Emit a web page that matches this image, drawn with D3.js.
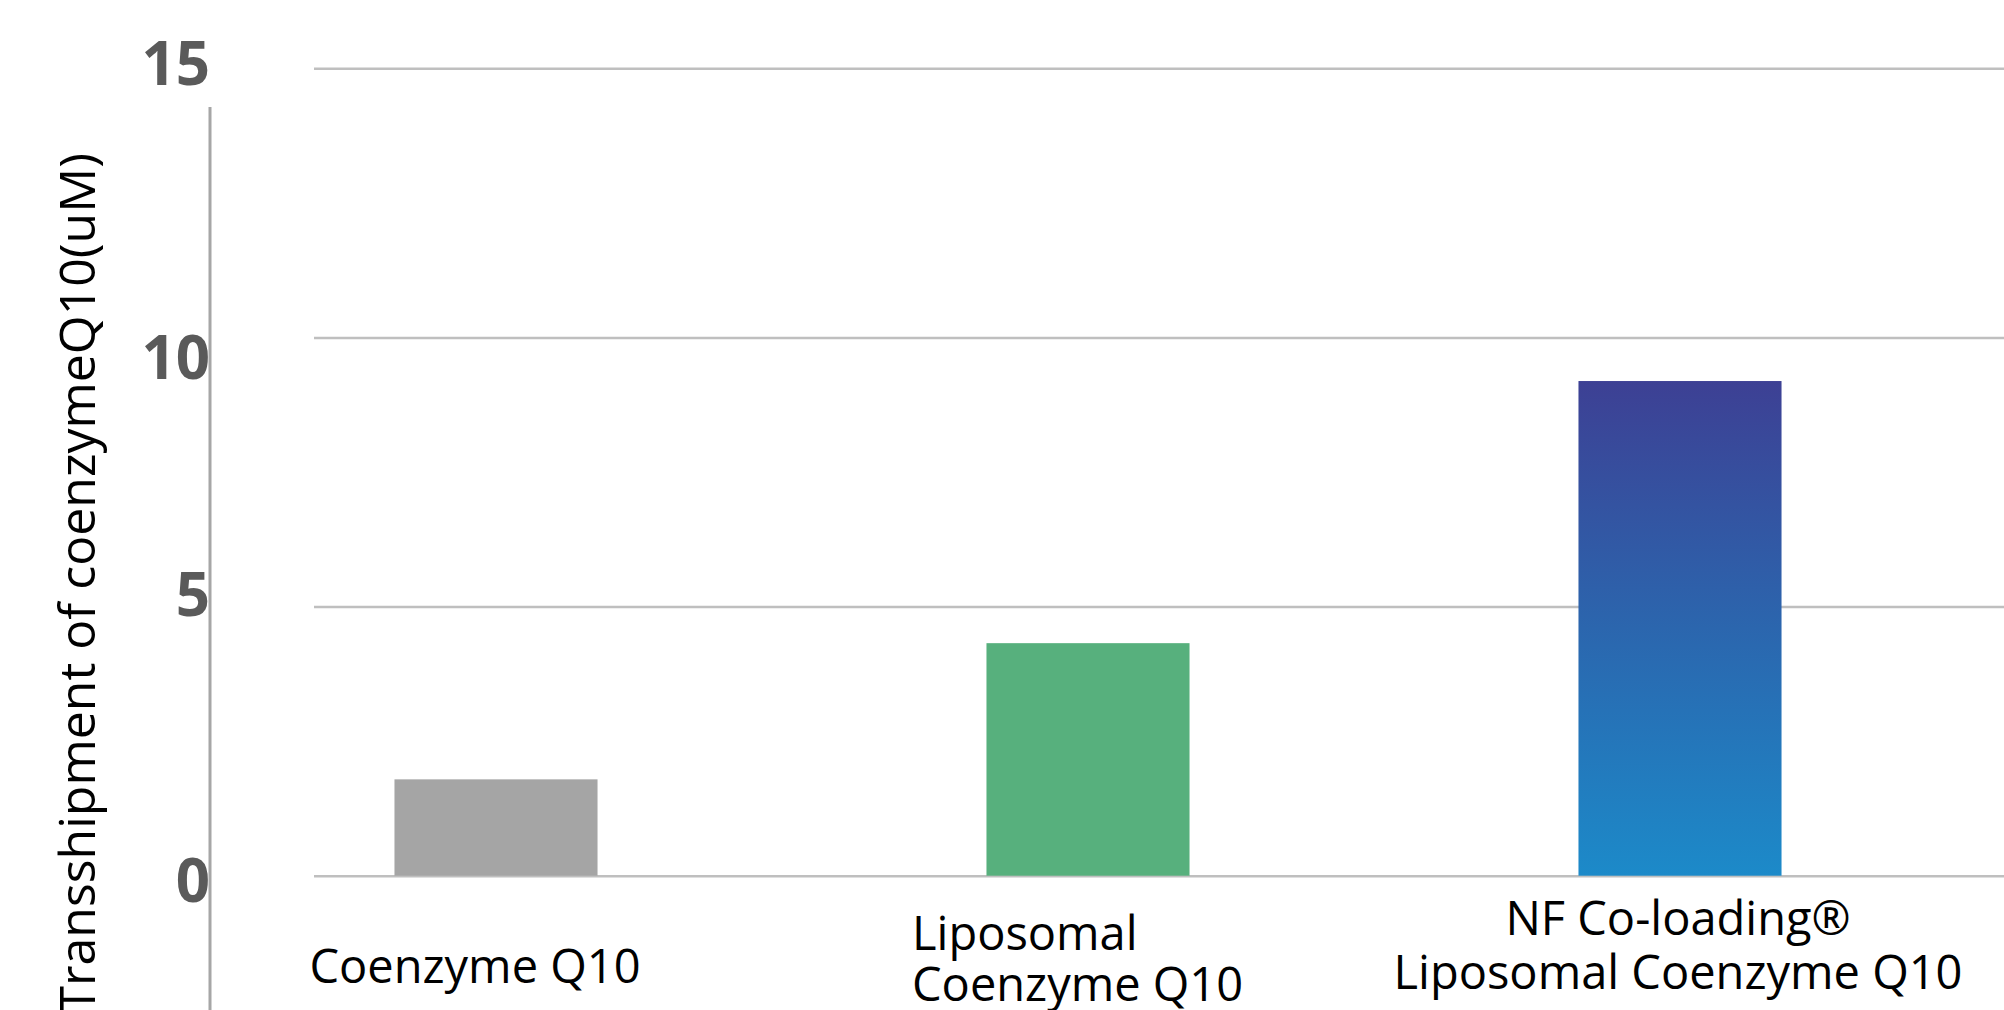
<!DOCTYPE html>
<html>
<head>
<meta charset="utf-8">
<script src="https://d3js.org/d3.v7.min.js"></script>
<style>
  body { margin: 0; background: #fff; }
  text { font-family: "Open Sans", "Noto Sans", sans-serif; }
</style>
</head>
<body>
<script type="text/javascript">

  // data
  var categories = ["Coenzyme Q10", "Liposomal Coenzyme Q10", "NF Co-loading® Liposomal Coenzyme Q10"];
  var labelLines = [["Coenzyme Q10"], ["Liposomal", "Coenzyme Q10"], ["NF Co-loading®", "Liposomal Coenzyme Q10"]];
  var values = [1.79, 4.32, 9.19];
  var yTicks = [0, 5, 10, 15];
  var yTitle = "Transshipment of coenzymeQ10(uM)";

  var w = 2004;
  var h = 1010;

  var svg = d3.select("body")
              .append("svg")
              .attr("width", w)
              .attr("height", h);

  var x = d3.scaleBand().domain(categories).range([200, 1976])
            .paddingInner(0.657).paddingOuter(0.3285);
  var y = d3.scaleLinear().domain([0, 15]).range([875.7, 68.3]);

  // gradient for the third bar
  var grad = svg.append("defs").append("linearGradient")
      .attr("id", "blueGrad")
      .attr("x1", 0).attr("y1", 0).attr("x2", 0).attr("y2", 1);
  grad.append("stop").attr("offset", "0%").attr("stop-color", "#3d4094");
  grad.append("stop").attr("offset", "50%").attr("stop-color", "#2b66ae");
  grad.append("stop").attr("offset", "100%").attr("stop-color", "#1c8ac9");

  var fills = ["#a5a5a5", "#57b07d", "url(#blueGrad)"];

  // gridlines
  var grid = svg.append("g")
      .attr("transform", "translate(314,0)")
      .call(d3.axisLeft(y).tickValues(yTicks).tickSize(-(w - 314)).tickFormat(""));
  grid.select(".domain").remove();
  grid.selectAll("line")
      .attr("stroke", "#bfbfbf")
      .attr("stroke-width", 2.5);

  // y axis line
  svg.append("line")
      .attr("x1", 210).attr("x2", 210)
      .attr("y1", 107).attr("y2", h)
      .attr("stroke", "#a6a6a6")
      .attr("stroke-width", 3);

  // tick labels (sit a bit off their gridlines in the original)
  var tickNudge = {0: 5, 5: -12, 10: 20, 15: -5};
  svg.append("g").selectAll("text")
      .data(yTicks)
      .enter().append("text")
      .attr("x", 210)
      .attr("y", function(d) { return y(d) + tickNudge[d]; })
      .attr("dy", "0.36em")
      .attr("text-anchor", "end")
      .attr("font-size", 60)
      .attr("font-weight", 700)
      .attr("fill", "#5a5a5a")
      .text(function(d) { return d; });

  // bars
  svg.append("g").selectAll("rect")
      .data(values)
      .enter().append("rect")
      .attr("x", function(d, i) { return x(categories[i]); })
      .attr("y", function(d) { return y(d); })
      .attr("width", x.bandwidth())
      .attr("height", function(d) { return y(0) - y(d); })
      .attr("fill", function(d, i) { return fills[i]; });

  // category labels
  var labelShift = [-21, -176, -2];
  var labelAnchor = ["middle", "start", "middle"];
  var labelBase = [[983], [950, 1001], [935, 989]];
  labelLines.forEach(function(lines, i) {
    var cx = x(categories[i]) + x.bandwidth() / 2 + labelShift[i];
    svg.append("g").selectAll("text")
        .data(lines)
        .enter().append("text")
        .attr("text-anchor", labelAnchor[i])
        .attr("font-size", 47)
        .attr("fill", "#000")
        .attr("x", cx)
        .attr("y", function(d, j) { return labelBase[i][j]; })
        .text(function(d) { return d; });
  });

  // y title
  svg.append("text")
      .attr("transform", "translate(95,153) rotate(-90)")
      .attr("text-anchor", "end")
      .attr("font-size", 50)
      .attr("fill", "#000")
      .text(yTitle);

</script>
</body>
</html>
